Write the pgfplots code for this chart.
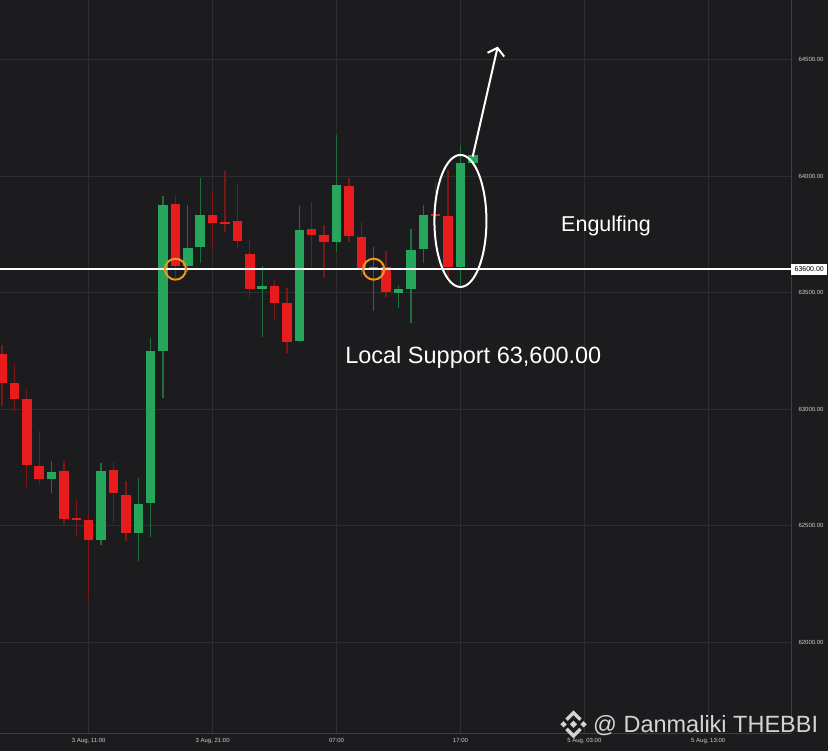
\documentclass[border=0pt]{standalone}
\usepackage{fontspec}
\setmainfont{Liberation Sans}
\usepackage{pgfplots}
\pgfplotsset{compat=1.18}
\usepackage{pgfplotstable}
\usetikzlibrary{arrows.meta}

\definecolor{bgc}{RGB}{28,28,30}
\definecolor{gridc}{RGB}{46,46,48}
\definecolor{axisc}{RGB}{62,62,64}
\definecolor{tickc}{RGB}{205,205,205}
\definecolor{redc}{RGB}{232,28,28}
\definecolor{greenc}{RGB}{38,166,90}
\definecolor{redwick}{RGB}{125,22,22}
\definecolor{greenwick}{RGB}{30,110,62}
\definecolor{orangec}{RGB}{245,150,20}
\definecolor{wmc}{RGB}{212,212,212}

% hourly candles, t = hours after 3 Aug 11:00
\pgfplotstableread{
t   O     H     L     C
-7  63235 63275 63013 63113
-6  63110 63192 62993 63044
-5  63043 63082 62666 62760
-4  62755 62906 62678 62701
-2  62733 62777 62505 62530
-1  62531 62609 62449 62524
0   62524 62555 62187 62439
2   62738 62771 62512 62639
3   62632 62691 62433 62468
7   63880 63914 63561 63614
10  63834 63933 63687 63797
11  63800 64023 63761 63795
12  63807 63966 63691 63721
13  63665 63725 63472 63515
15  63529 63557 63382 63454
16  63454 63521 63242 63286
18  63771 63890 63604 63747
19  63745 63790 63561 63718
21  63958 63990 63718 63744
22  63740 63801 63568 63601
24  63608 63678 63479 63501
28  63836 63976 63811 63827
29  63827 64026 63568 63608
}\redcandles

\pgfplotstableread{
t   O     H     L     C
-3  62701 62778 62641 62730
1   62439 62767 62416 62735
4   62466 62705 62349 62592
5   62595 63303 62449 63250
6   63248 63914 63046 63877
8   63614 63876 63589 63690
9   63694 63990 63625 63833
14  63515 63614 63308 63529
17  63290 63871 63286 63768
20  63715 64176 63675 63961
23  63601 63697 63422 63611
25  63499 63529 63432 63514
26  63515 63773 63368 63684
27  63685 63876 63625 63834
30  63608 64133 63529 64055
31  64055 64095 64050 64089
}\greencandles

\begin{document}
\begin{tikzpicture}[x=1bp,y=1bp]
\useasboundingbox (0,-18) rectangle (828,733);
\fill[bgc] (0,-18) rectangle (828,733);

\begin{axis}[
  at={(0,0)}, anchor=south west,
  scale only axis, width=791bp, height=733bp,
  xmin=-7.16, xmax=56.68,
  ymin=61610, ymax=64755,
  axis x line*=bottom, axis y line*=right,
  axis line style={-, draw=axisc, line width=0.8bp},
  major tick length=0pt,
  xtick={0,10,...,50},
  xticklabels={{3 Aug, 11:00},{3 Aug, 21:00},{07:00},{17:00},{5 Aug, 03:00},{5 Aug, 13:00}},
  ytick={62000,62500,...,64500},
  yticklabels={62000.00,62500.00,63000.00,63500.00,64000.00,64500.00},
  grid=major,
  major grid style={draw=gridc, line width=0.8bp},
  tick label style={font=\fontsize{6bp}{7bp}\selectfont, text=tickc},
  yticklabel style={anchor=west, xshift=4bp},
  xticklabel style={yshift=-2bp},
  clip=false,
]

% wicks
\addplot[draw=none, mark=none, forget plot,
  error bars/.cd, y dir=plus, y explicit, error mark=none,
  error bar style={line width=1.3bp, draw=redwick}]
  table[x=t, y=L, y error plus expr=\thisrow{H}-\thisrow{L}] {\redcandles};
\addplot[draw=none, mark=none, forget plot,
  error bars/.cd, y dir=plus, y explicit, error mark=none,
  error bar style={line width=1.3bp, draw=greenwick}]
  table[x=t, y=L, y error plus expr=\thisrow{H}-\thisrow{L}] {\greencandles};

% bodies
\addplot[draw=none, mark=none, forget plot,
  error bars/.cd, y dir=plus, y explicit, error mark=none,
  error bar style={line width=9.5bp, draw=redc}]
  table[x=t, y=C, y error plus expr={max(\thisrow{O}-\thisrow{C},8)}] {\redcandles};
\addplot[draw=none, mark=none, forget plot,
  error bars/.cd, y dir=plus, y explicit, error mark=none,
  error bar style={line width=9.5bp, draw=greenc}]
  table[x=t, y=O, y error plus expr={max(\thisrow{C}-\thisrow{O},8)}] {\greencandles};

% local support
\addplot[draw=white, line width=2.5bp, forget plot]
  coordinates {(-7.16,63600) (56.68,63600)};
\addplot[only marks, mark=o, mark size=10.5bp, forget plot,
  mark options={draw=orangec, line width=2bp}]
  coordinates {(7,63600) (23,63600)};

\node[fill=white, text=black, anchor=west, inner sep=0,
  minimum width=36bp, minimum height=11bp,
  font=\fontsize{7bp}{8bp}\selectfont] at (axis cs:56.68,63600) {63600.00};

% engulfing candle
\draw[white, line width=2bp] (axis cs:30,63807) ellipse [x radius=26bp, y radius=66bp];
\draw[white, line width=2bp, -{Straight Barb[length=7bp, width=17bp]}]
  (axis cs:30.99,64083) -- (axis cs:33.01,64555);

\node[anchor=base west, text=white, inner sep=0,
  font=\fontsize{23.5bp}{28bp}\selectfont] at (axis cs:20.69,63196) {Local Support 63,600.00};
\node[anchor=base west, text=white, inner sep=0,
  font=\fontsize{21.5bp}{26bp}\selectfont] at (axis cs:38.12,63761) {Engulfing};
\end{axis}

% watermark
\begin{scope}[shift={(573.5,8.7)}, wmc]
  \fill (0,3.6) -- (3.6,0) -- (0,-3.6) -- (-3.6,0) -- cycle;
  \fill (-10,3.2) -- (-6.8,0) -- (-10,-3.2) -- (-13.2,0) -- cycle;
  \fill (10,3.2) -- (13.2,0) -- (10,-3.2) -- (6.8,0) -- cycle;
  \draw[line width=3.4bp, line join=miter] (-7,4.6) -- (0,11.6) -- (7,4.6);
  \draw[line width=3.4bp, line join=miter] (-7,-4.6) -- (0,-11.6) -- (7,-4.6);
\end{scope}
\node[anchor=base west, text=wmc, inner sep=0,
  font=\fontsize{23.5bp}{28bp}\selectfont] at (593,0) {@ Danmaliki THEBBI};
\end{tikzpicture}
\end{document}
